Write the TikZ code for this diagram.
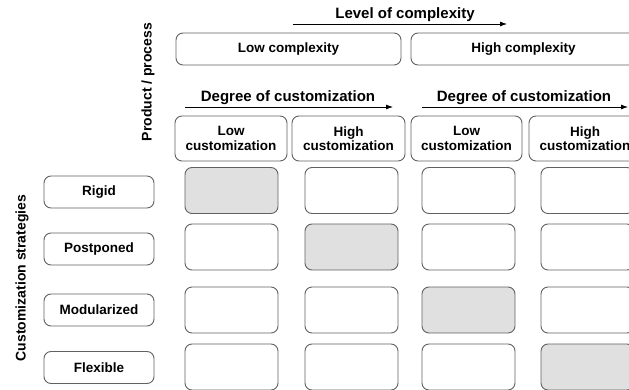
\documentclass[tikz,border=0pt]{standalone}
\usepackage{fontspec}
\setmainfont{Liberation Sans}
\usetikzlibrary{arrows.meta}
\begin{document}
\begin{tikzpicture}[x=1pt,y=-1pt,
  box/.style={draw=black!62,line width=0.9pt,rounded corners=7pt,inner sep=0pt,
    font=\fontsize{13.5}{14.5}\selectfont\bfseries,align=center},
  cell/.style={box,minimum width=93pt,minimum height=46pt},
  shaded/.style={cell,fill=black!12},
  rowlab/.style={box,minimum width=110pt,minimum height=32pt},
  head/.style={font=\fontsize{15}{16}\selectfont\bfseries,inner sep=0pt},
  side/.style={font=\fontsize{14}{15}\selectfont\bfseries,inner sep=0pt,rotate=90},
  arr/.style={line width=0.8pt,-{Latex[length=7pt,width=5pt]}}]
\useasboundingbox (0,0) rectangle (629,390);
\clip (0,0) rectangle (629,390);
% top header
\node[head] (lvl) at (405,15) {Level of complexity};
\coordinate (la) at (293,24); \coordinate (lb) at (507,24);
\draw[arr] (la) -- (lb);
\node[box,minimum width=225pt,minimum height=32pt] (lowc) at (288.5,49) {Low complexity};
\node[box,minimum width=225pt,minimum height=32pt] (highc) at (523.5,49) {High complexity};
% degree headers
\node[head] (deg1) at (288,98) {Degree of customization};
\coordinate (d1a) at (185,107); \coordinate (d1b) at (393,107);
\draw[arr] (d1a) -- (d1b);
\node[head] (deg2) at (524,98) {Degree of customization};
\coordinate (d2a) at (422,107); \coordinate (d2b) at (628,107);
\draw[arr] (d2a) -- (d2b);
% column headers
\node[box,minimum width=112pt,minimum height=45pt] (h1) at (231,138.5) {Low\\customization};
\node[box,minimum width=113pt,minimum height=45pt] (h2) at (348.5,138.5) {High\\customization};
\node[box,minimum width=111pt,minimum height=45pt] (h3) at (466.5,138.5) {Low\\customization};
\node[box,minimum width=112pt,minimum height=45pt] (h4) at (585,138.5) {High\\customization};
% rotated labels
\node[side] (pp) at (148,82) {Product / process};
\node[side] (cs) at (22,278) {Customization strategies};
% row labels
\node[rowlab] (r1) at (99,192) {Rigid};
\node[rowlab] (r2) at (99,249) {Postponed};
\node[rowlab] (r3) at (99,310) {Modularized};
\node[rowlab] (r4) at (99,367.5) {Flexible};
% grid
\foreach \c/\x in {1/231.5,2/351.5,3/468.5,4/587.5}{
  \foreach \r/\y in {1/190.5,2/247,3/310,4/367}{
    \ifnum\c=\r
      \node[shaded] (c\c\r) at (\x,\y) {};
    \else
      \node[cell] (c\c\r) at (\x,\y) {};
    \fi
  }
}
\end{tikzpicture}
\end{document}
